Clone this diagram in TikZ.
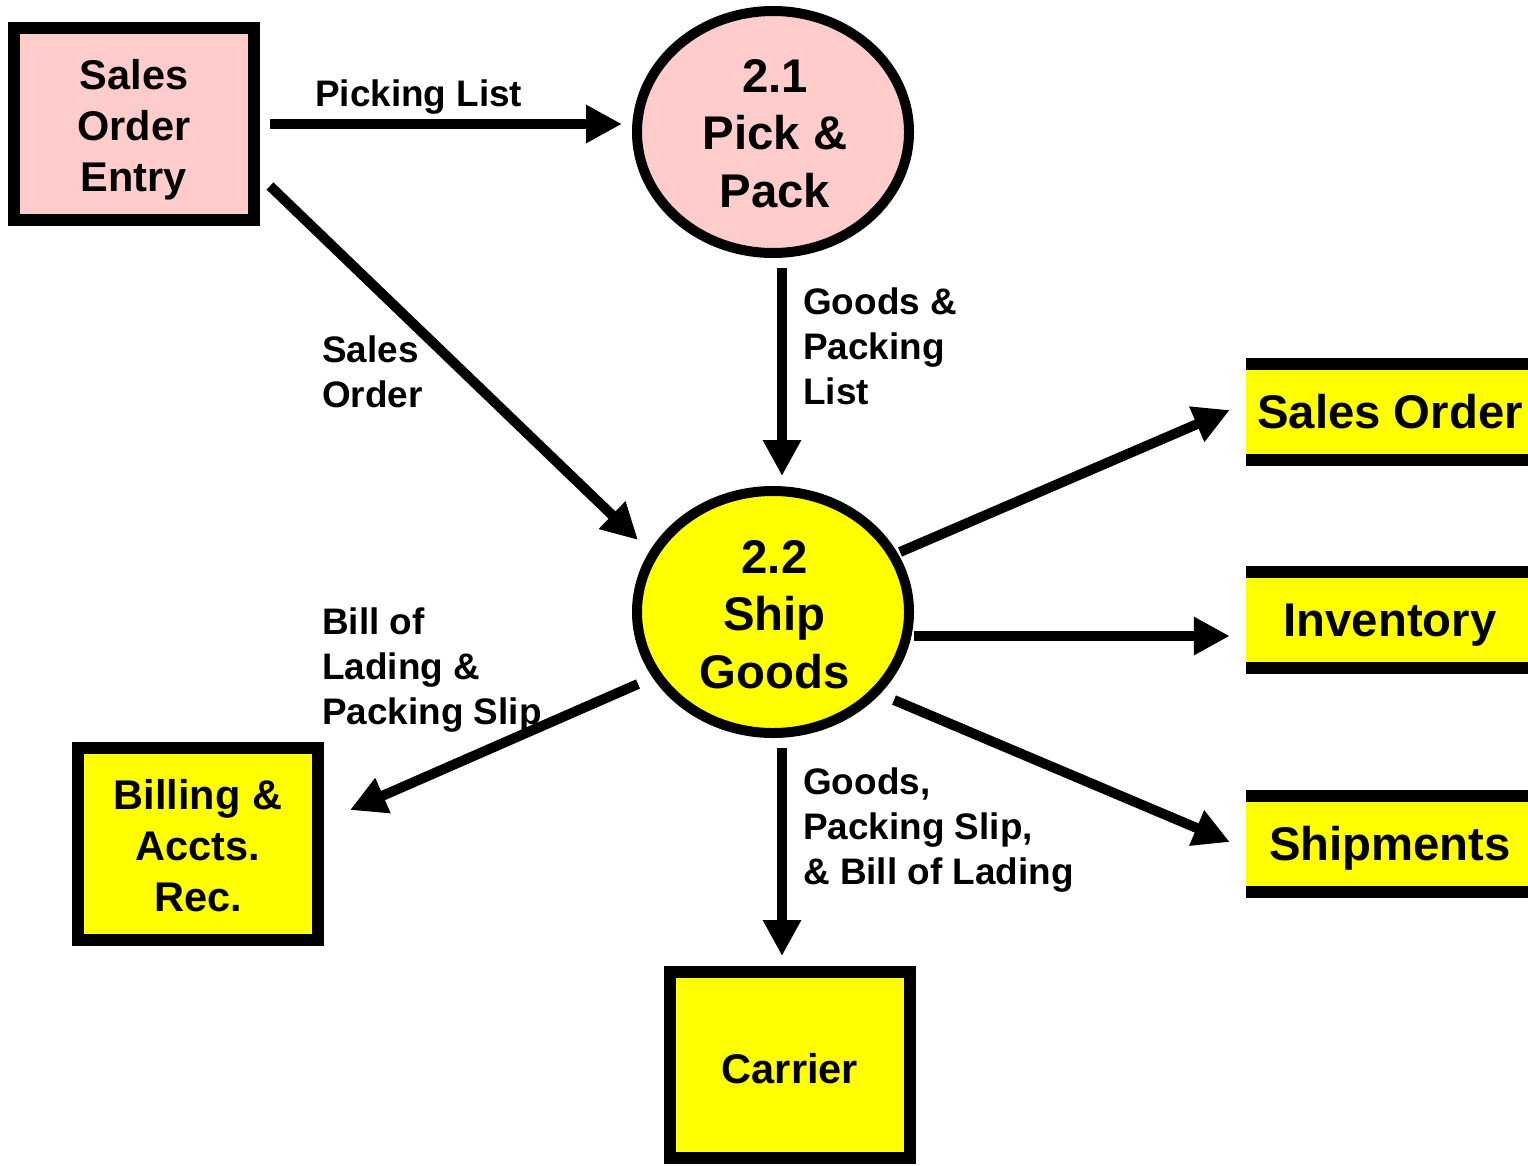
\documentclass[tikz,border=0pt]{standalone}
\usepackage{fontspec}
\setmainfont{Liberation Sans}
\usetikzlibrary{arrows.meta,shapes.geometric}
\definecolor{procpink}{HTML}{FFCCCC}
\definecolor{dfdyellow}{HTML}{FFFF00}
\begin{document}
\begin{tikzpicture}[x=1pt,y=-1pt,
  entity/.style={draw=black,line width=12pt,rectangle,minimum width=240pt,
    minimum height=192pt,inner sep=0pt},
  entitytext/.style={align=center,inner sep=0pt,
    font=\fontsize{41.5}{51}\selectfont\bfseries},
  process/.style={draw=black,line width=10pt,ellipse,minimum width=272pt,
    minimum height=242pt,inner sep=0pt},
  processtext/.style={align=center,inner sep=0pt,
    font=\fontsize{47.3}{57.5}\selectfont\bfseries},
  store/.style={fill=dfdyellow,rectangle,minimum width=282pt,minimum height=96pt,
    inner sep=0pt},
  storetext/.style={inner sep=0pt,text height=33.9pt,text depth=0pt,
    font=\fontsize{47.3}{57}\selectfont\bfseries},
  storeline/.style={line width=12pt},
  flow/.style={line width=10pt,-{Triangle[length=36pt,width=36pt]}},
  flowlabel/.style={anchor=west,align=left,inner sep=0pt,
    font=\fontsize{36.9}{45}\selectfont\bfseries}]
\useasboundingbox (0,0) rectangle (1528,1165);

% external entities
\node[entity,fill=procpink,
  label={[entitytext,name=soe-t,yshift=-5.5pt]center:{Sales\\Order\\Entry}}]
  (soe) at (134,124) {};
\node[entity,fill=dfdyellow,
  label={[entitytext,name=bill-t,yshift=-1.5pt]center:{Billing \&\\Accts.\\Rec.}}]
  (bill) at (198,844) {};
\node[entity,fill=dfdyellow,minimum height=186pt,
  label={[entitytext,name=car-t,yshift=-4pt]center:{Carrier}}]
  (car) at (790,1065) {};

% processes
\node[process,fill=procpink,
  label={[processtext,name=pp-t,xshift=2pt,yshift=-1.5pt]center:{2.1\\Pick \&\\Pack}}]
  (pp) at (773,132) {};
\node[process,fill=dfdyellow,
  label={[processtext,name=sg-t,xshift=1.5pt,yshift=-2.5pt]center:{2.2\\Ship\\Goods}}]
  (sg) at (773,612) {};

% data stores (open-ended, top and bottom rules)
\node[store,label={[storetext,name=so-t,xshift=3pt]center:Sales Order}]
  (so) at (1387,412) {};
\node[store,label={[storetext,name=inv-t,xshift=3pt]center:Inventory}]
  (inv) at (1387,620) {};
\node[store,label={[storetext,name=ship-t,xshift=3pt]center:Shipments}]
  (ship) at (1387,844) {};
\foreach \s in {so,inv,ship}{
  \draw[storeline] (\s.north west) -- (\s.north east);
  \draw[storeline] (\s.south west) -- (\s.south east);
}

% data flows
\draw[flow] ([shift={(10,0)}]soe.east) -- ([shift={(-10,-8)}]pp.west);
\draw[flow] ([shift={(10,62)}]soe.east) -- ([shift={(-135,-72)}]sg.center);
\draw[flow] ([shift={(9,10)}]pp.south) -- ([shift={(9,-10)}]sg.north);
\draw[flow] ([shift={(127,-60)}]sg.center) -- ([shift={(-16,-2)}]so.west);
\draw[flow] ([shift={(0,24)}]sg.east) -- ([shift={(-16,16)}]inv.west);
\draw[flow] ([shift={(121,88)}]sg.center) -- ([shift={(-16,-2)}]ship.west);
\draw[flow] ([shift={(-135,72)}]sg.center) -- ([shift={(26,-34)}]bill.east);
\draw[flow] ([shift={(9,10)}]sg.south) -- ([shift={(-8,-10)}]car.north);

% flow labels
\node[flowlabel] (l1) at (315,97) {Picking List};
\node[flowlabel] (l2) at (322,372) {Sales\\Order};
\node[flowlabel] (l3) at (803,346) {Goods \&\\Packing\\List};
\node[flowlabel] (l4) at (322,670) {Bill of\\Lading \&\\Packing Slip};
\node[flowlabel] (l5) at (803,830) {Goods,\\Packing Slip,\\\& Bill of Lading};
\end{tikzpicture}
\end{document}
